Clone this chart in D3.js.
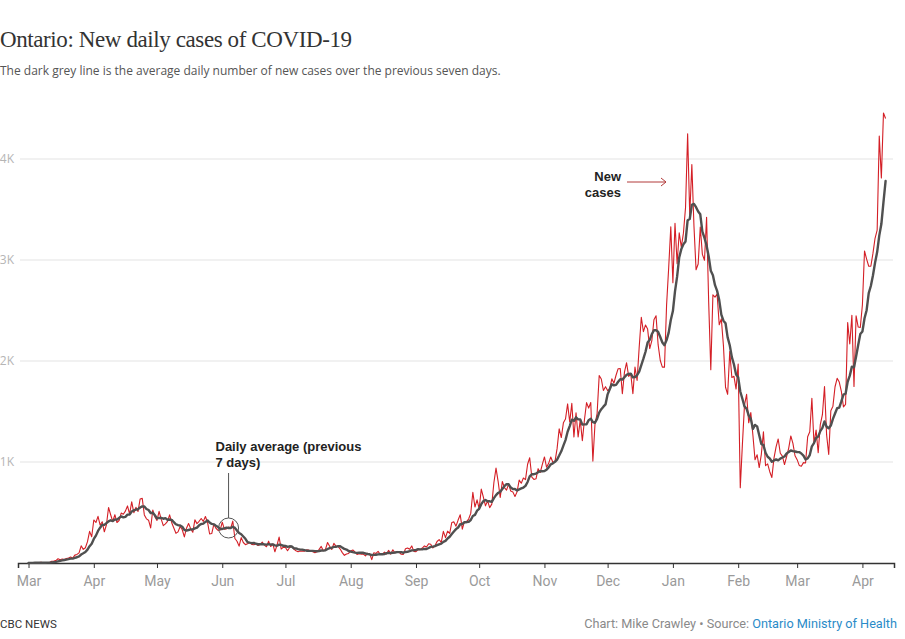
<!DOCTYPE html>
<html>
<head>
<meta charset="utf-8">
<script src="https://cdn.jsdelivr.net/npm/d3@7"></script>
<style>
  html, body { margin: 0; padding: 0; background: #fff; }
  svg { display: block; }
</style>
</head>
<body>
<svg id="chart" width="905" height="639"></svg>
<script>
// ---------- DATA (Ontario new daily cases, by report date) ----------
const startDate = new Date(2020, 2, 1); // Mar 1, 2020
const mar20 = [0,3,2,2,2,4,6,1,4,5,5,17,20,24,42,32,39,34,44,50,59,48,78,85,100,170,135,151,211,313,260];
const apr20 = [426,401,462,375,408,309,379,550,478,411,478,401,421,494,483,514,565,485,606,498,551,510,634,640,476,437,424,347,525,459];
const may20 = [421,511,434,370,387,412,477,399,346,294,308,361,329,258,345,391,340,304,427,390,413,441,412,460,404,287,292,383,344,323,326];
const jun20 = [404,335,338,356,344,415,243,215,167,251,203,182,190,203,184,181,190,173,182,206,177,161,216,163,189,111,178,257,138,157];
const jul20 = [153,121,154,165,138,121,112,118,118,116,130,129,116,111,102,111,135,164,121,135,203,165,134,195,167,164,138,103,76,89,95];
const aug20 = [119,129,110,85,91,86,88,70,95,90,33,102,95,115,86,84,108,89,125,88,131,100,115,105,87,85,141,148,137,169,115];
const sep20 = [112,133,132,148,169,158,190,185,149,170,213,232,204,313,251,315,293,401,407,365,425,478,335,409,409,435,491,700,554,625];
const oct20 = [538,732,653,566,615,548,583,797,939,809,649,807,746,721,783,712,704,658,704,821,790,841,826,978,1042,851,827,834,934,896,977];
const nov20 = [1050,948,987,1050,998,1003,1132,1328,1242,1388,1426,1575,1396,1581,1248,1487,1249,1417,1210,1418,1588,1534,1589,1009,1373,1478,1855,1822,1708,1746];
const dec20 = [1707,1723,1824,1780,1859,1924,1925,1676,1890,1983,1848,1873,1677,1940,1808,2139,2432,2290,2357,2316,2123,2202,2408,2447,2159,2005,1939,1939,2553,2923,3328];
const jan21 = [2776,3363,2964,3270,3128,3266,3519,4249,3443,3945,3338,2903,2961,3326,3056,2998,3422,2578,1913,2655,2632,2662,2359,2417,2154,1740,1670,2093,1837,1848,1722];
const feb21 = [1969,745,1172,1563,1670,1388,1489,1265,1022,1072,945,1076,1300,964,981,904,847,1038,1150,1228,1087,1058,975,1054,1138,1258,1185,1062];
const mar21 = [1023,966,958,994,990,1250,1299,1631,1185,1316,1092,1371,1468,1747,1268,1074,1508,1553,1745,1829,1791,1699,1546,1571,2380,2169,2453,1747,2448,2336,2333];
const apr21 = [2557,3089,3009,2938,2938,3065,3215,3295,4227,3813,4456,4401];

const xTickLabels = ["Mar","Apr","May","Jun","Jul","Aug","Sep","Oct","Nov","Dec","Jan","Feb","Mar","Apr"];
const yTicks = [1000, 2000, 3000, 4000];
const yTickLabels = ["1K","2K","3K","4K"];

// ---------- BUILD ----------
const daily = [].concat(mar20, apr20, may20, jun20, jul20, aug20, sep20, oct20, nov20, dec20, jan21, feb21, mar21, apr21);
const data = daily.map((v, i) => ({ date: d3.timeDay.offset(startDate, i), value: v }));
const avgData = data.map((d, i) => ({
  date: d.date,
  value: d3.mean(daily.slice(Math.max(0, i - 6), i + 1))
}));

const svg = d3.select("#chart");

const x = d3.scaleTime()
  .domain([new Date(2020, 1, 25), new Date(2021, 3, 16)])
  .range([18, 894]);
const y = d3.scaleLinear().domain([0, 4000]).range([563, 159]);

// Title & subtitle
svg.append("text")
  .attr("x", 0).attr("y", 47)
  .attr("font-family", "'Liberation Serif', 'Times New Roman', serif")
  .attr("font-size", 23).attr("letter-spacing", "-0.4px")
  .attr("fill", "#333")
  .text("Ontario: New daily cases of COVID-19");

svg.append("text")
  .attr("x", 0).attr("y", 75)
  .attr("font-family", "'Open Sans', sans-serif")
  .attr("font-size", 12)
  .attr("fill", "#555")
  .text("The dark grey line is the average daily number of new cases over the previous seven days.");

// Gridlines + y labels
const yAxis = svg.append("g").attr("class", "y-axis");
yAxis.selectAll("line").data(yTicks).join("line")
  .attr("x1", 20).attr("x2", 893)
  .attr("y1", d => y(d)).attr("y2", d => y(d))
  .attr("stroke", "#e3e3e3").attr("stroke-width", 1);
yAxis.selectAll("text").data(yTicks).join("text")
  .attr("x", 14).attr("y", d => y(d)).attr("dy", "0.35em")
  .attr("text-anchor", "end")
  .attr("font-family", "'Open Sans', sans-serif")
  .attr("font-size", 12)
  .attr("fill", "#b5b5b5")
  .text((d, i) => yTickLabels[i]);

// X axis
const monthTicks = d3.timeMonth.range(new Date(2020, 2, 1), new Date(2021, 3, 2));
const xAxis = svg.append("g")
  .attr("transform", `translate(0,${y(0)})`)
  .call(d3.axisBottom(x)
    .tickValues(monthTicks)
    .tickFormat((d, i) => xTickLabels[i])
    .tickSize(5).tickPadding(8));
xAxis.select(".domain").attr("stroke", "#333").attr("stroke-width", 1.5);
xAxis.selectAll(".tick line").attr("stroke", "#333").attr("stroke-width", 1);
xAxis.selectAll(".tick text")
  .attr("font-family", "'Liberation Sans Narrow', 'Arial Narrow', 'Roboto', sans-serif")
  .attr("font-size", 14)
  .attr("fill", "#9a9a9a");

// Lines
const line = d3.line().x(d => x(d.date)).y(d => y(d.value));
svg.append("path").datum(data)
  .attr("fill", "none").attr("stroke", "#d41f26").attr("stroke-width", 1.1)
  .attr("stroke-linejoin", "round")
  .attr("d", line);
svg.append("path").datum(avgData)
  .attr("fill", "none").attr("stroke", "#505050").attr("stroke-width", 2.4)
  .attr("stroke-linejoin", "round").attr("stroke-linecap", "round")
  .attr("d", line);

// Annotation: Daily average
const annIdx = 95; // Jun 4, 2020
const ax = x(avgData[annIdx].date), ay = y(avgData[annIdx].value);
const ann1 = svg.append("g")
  .attr("font-family", "'Liberation Sans', Arial, sans-serif")
  .attr("font-weight", "bold").attr("font-size", 13).attr("fill", "#222");
ann1.append("text").attr("x", 215.5).attr("y", 451).text("Daily average (previous");
ann1.append("text").attr("x", 215.5).attr("y", 467).text("7 days)");
svg.append("line")
  .attr("x1", ax).attr("x2", ax).attr("y1", 473).attr("y2", ay - 10)
  .attr("stroke", "#555").attr("stroke-width", 1);
svg.append("circle")
  .attr("cx", ax).attr("cy", ay).attr("r", 10)
  .attr("fill", "none").attr("stroke", "#555").attr("stroke-width", 1);

// Annotation: New cases
const ann2 = svg.append("g")
  .attr("font-family", "'Liberation Sans', Arial, sans-serif")
  .attr("font-weight", "bold").attr("font-size", 13).attr("fill", "#222")
  .attr("text-anchor", "end");
ann2.append("text").attr("x", 621).attr("y", 181).text("New");
ann2.append("text").attr("x", 621).attr("y", 197).text("cases");
svg.append("line")
  .attr("x1", 627).attr("x2", 666).attr("y1", 182).attr("y2", 182)
  .attr("stroke", "#b23a3a").attr("stroke-width", 1);
svg.append("path")
  .attr("d", "M661,178 L666,182 L661,186")
  .attr("fill", "none").attr("stroke", "#b23a3a").attr("stroke-width", 1);

// Footer
svg.append("text")
  .attr("x", 0).attr("y", 628)
  .attr("font-family", "'Liberation Sans Narrow', 'Arial Narrow', 'Roboto', sans-serif")
  .attr("font-size", 11.5).attr("fill", "#333")
  .text("CBC NEWS");
const src = svg.append("text")
  .attr("x", 897).attr("y", 628).attr("text-anchor", "end")
  .attr("font-family", "'Liberation Sans Narrow', 'Arial Narrow', 'Roboto', sans-serif")
  .attr("font-size", 12.7).attr("fill", "#8a8a8a");
src.append("tspan").text("Chart: Mike Crawley \u2022 Source: ");
src.append("tspan").attr("fill", "#2a8bc8").text("Ontario Ministry of Health");
</script>
</body>
</html>
